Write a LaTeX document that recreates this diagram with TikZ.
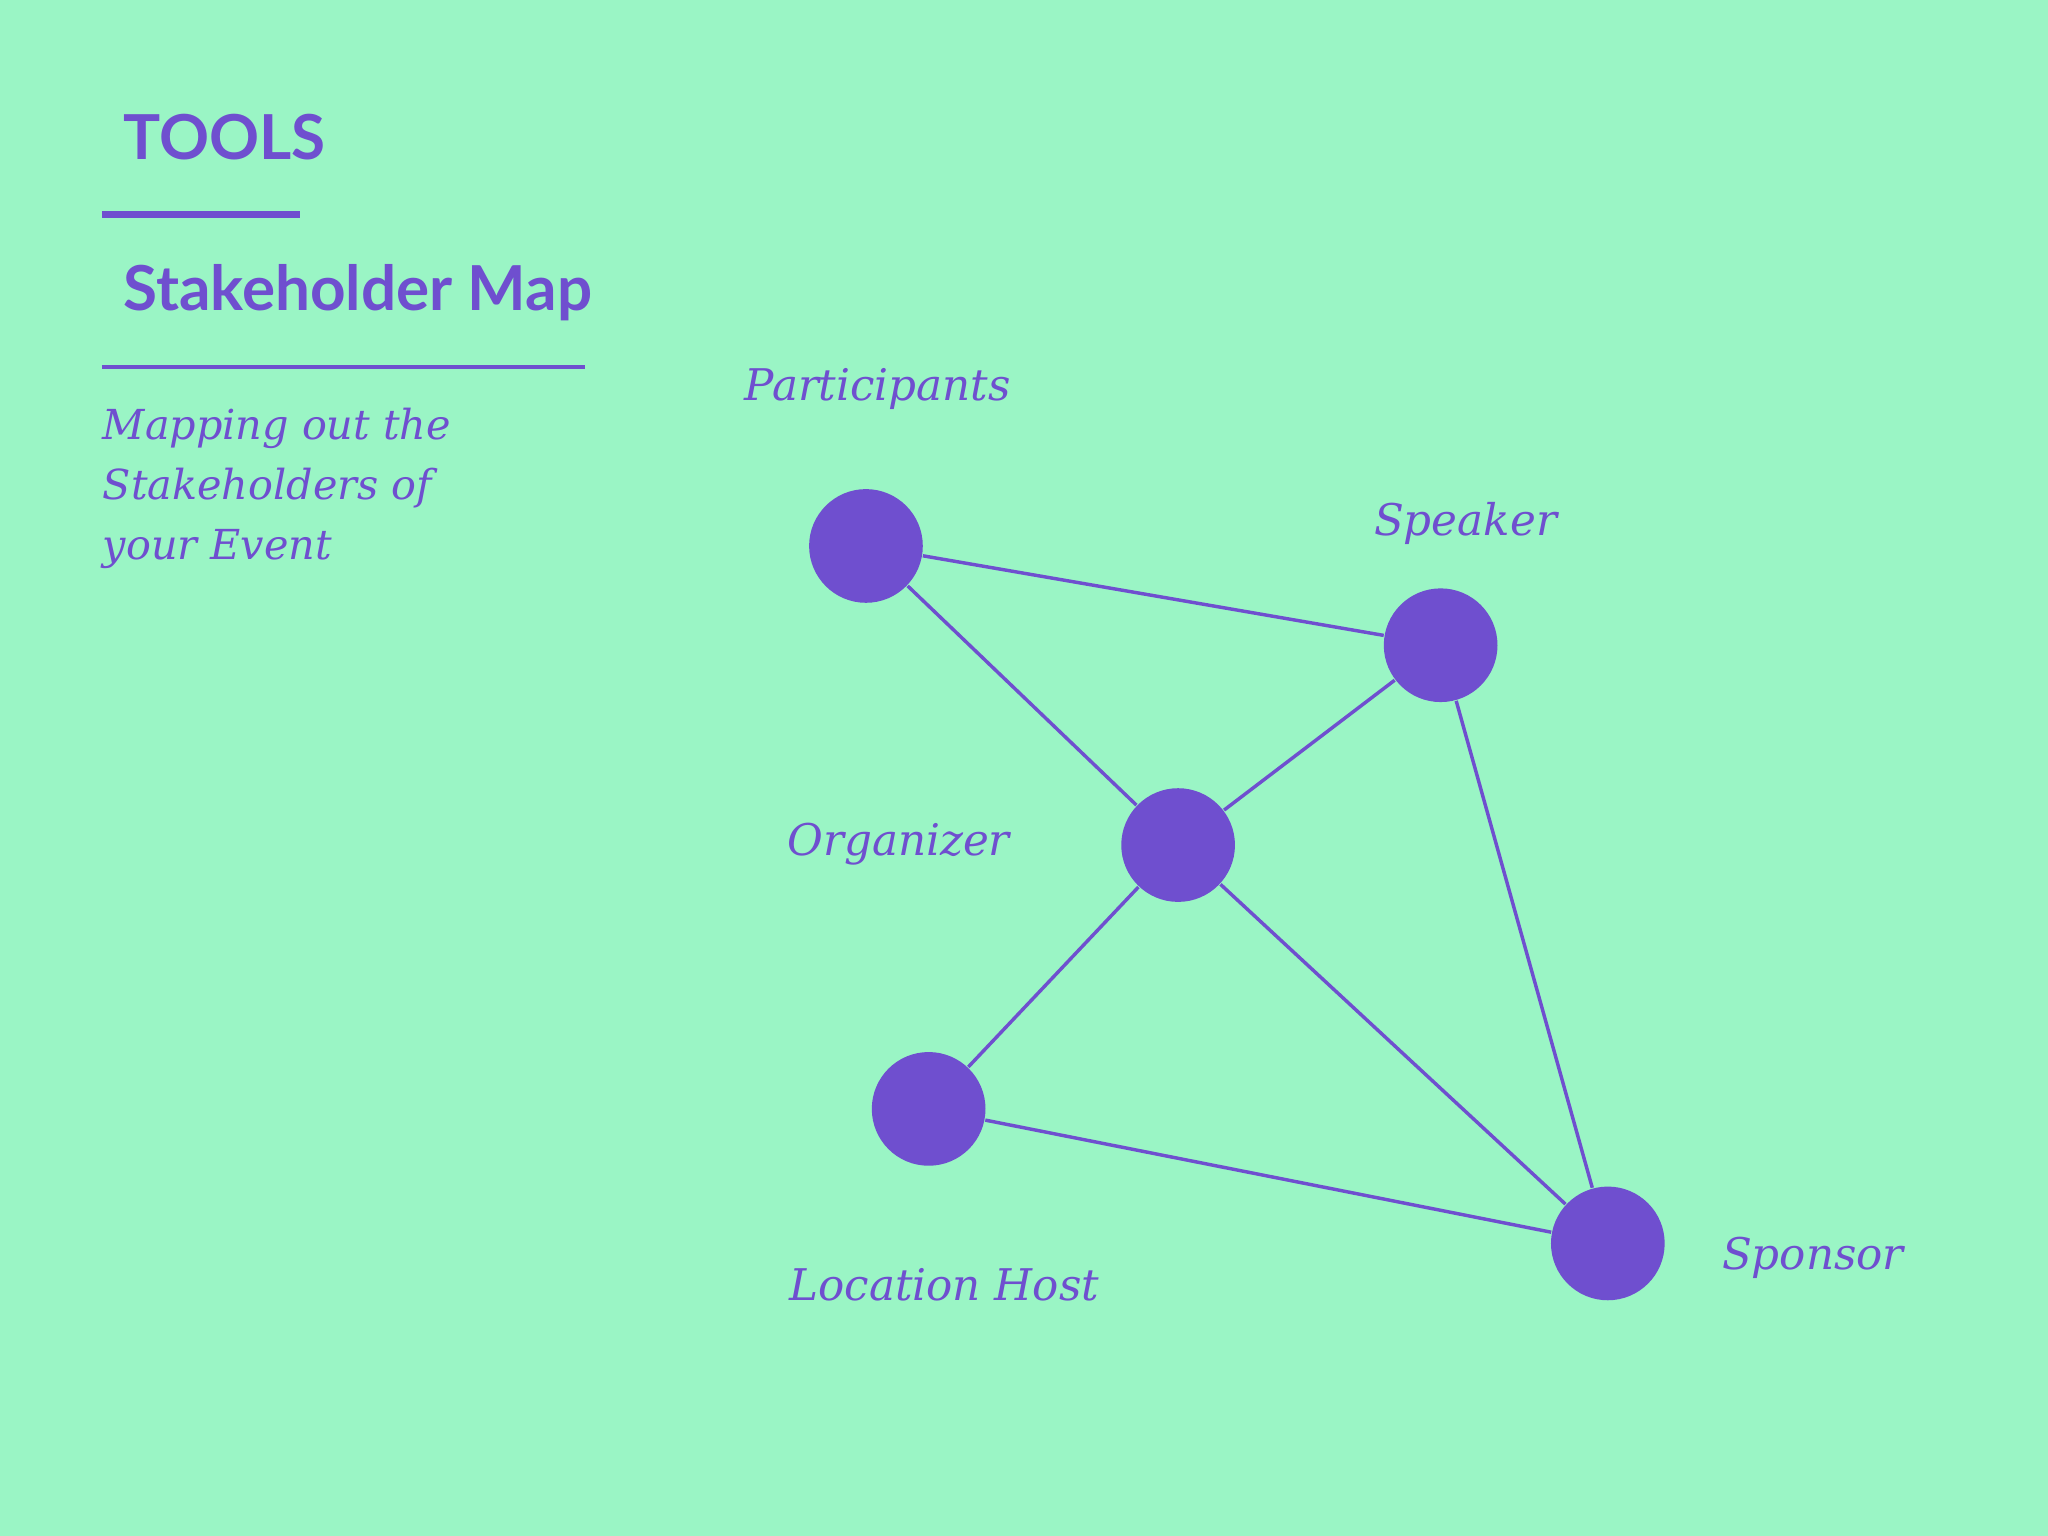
\documentclass[tikz,border=0pt]{standalone}
\usepackage{fontspec}
\setmainfont{DejaVu Serif}
\newfontfamily\hfont{Lato}
\definecolor{bg}{HTML}{9AF5C5}
\definecolor{pu}{HTML}{6F4FCF}
\begin{document}
\begin{tikzpicture}[x=0.01cm,y=-0.01cm,
  dot/.style={circle,fill=pu,minimum size=0.87cm,inner sep=0pt},
  lab/.style={text=pu,font=\itshape\fontsize{9.5}{11}\selectfont},
  edge/.style={draw=pu,line width=0.75pt}]
\fill[bg] (0,0) rectangle (1568,1176);
\node[text=pu,font=\hfont\bfseries\fontsize{13.5}{16}\selectfont,anchor=base west] (t) at (82,122) {TOOLS};
\draw[pu,line width=1.5pt] (78,164) -- (230,164);
\node[text=pu,font=\hfont\bfseries\fontsize{13.5}{16}\selectfont,anchor=base west] (s) at (82,238) {Stakeholder Map};
\draw[pu,line width=0.9pt] (78,281) -- (448,281);
\node[lab,anchor=north west,align=left,inner sep=0pt,font=\itshape\fontsize{9}{13}\selectfont] (d) at (78,312) {Mapping out the\\Stakeholders of\\your Event};
\node[dot] (P) at (663,418) {};
\node[dot] (S) at (1103,494) {};
\node[dot] (O) at (902,647) {};
\node[dot] (L) at (711,849) {};
\node[dot] (Sp) at (1231,952) {};
\draw[edge] (P)--(S) (P)--(O) (S)--(O) (S)--(Sp) (O)--(L) (O)--(Sp) (L)--(Sp);
\node[lab] (pl) at (672,298) {Participants};
\node[lab] (sl) at (1122,401) {Speaker};
\node[lab] (ol) at (688,646) {Organizer};
\node[lab] (ll) at (723,984) {Location Host};
\node[lab] (spl) at (1388,963) {Sponsor};
\end{tikzpicture}
\end{document}
